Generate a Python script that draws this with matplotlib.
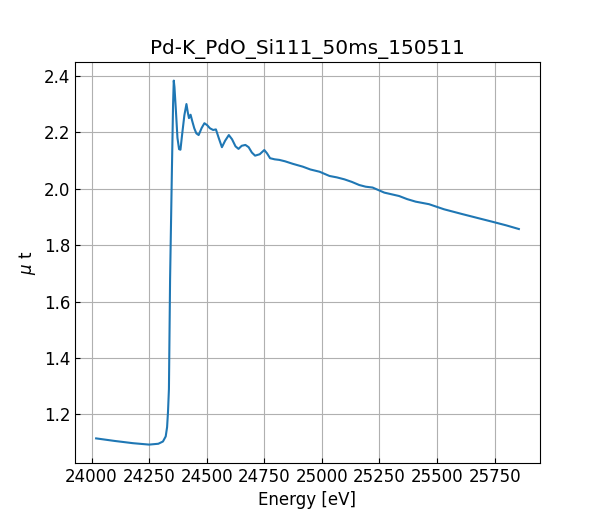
import matplotlib
matplotlib.use('Agg')
import matplotlib.pyplot as plt

plt.rcParams['font.size'] = 12

title = 'Pd-K_PdO_Si111_50ms_150511'

energy = [24020, 24100, 24180, 24250, 24290, 24310, 24322, 24328, 24332, 24336,
          24341, 24349, 24354, 24357, 24360, 24366, 24373, 24380, 24386, 24393,
          24403, 24412, 24418, 24423, 24430, 24437, 24446, 24455, 24465, 24478,
          24490, 24502, 24514, 24528, 24540, 24552, 24566, 24580, 24596, 24610,
          24625, 24638, 24652, 24668, 24682, 24696, 24710, 24730, 24750, 24762,
          24775, 24795, 24815, 24840, 24874, 24917, 24950, 24990, 25033, 25065,
          25098, 25130, 25162, 25190, 25220, 25271, 25335, 25370, 25407, 25465,
          25530, 25609, 25681, 25739, 25800, 25855]
mu_t = [1.115, 1.106, 1.098, 1.093, 1.096, 1.104, 1.122, 1.155, 1.210, 1.290,
        1.680, 2.070, 2.300, 2.383, 2.360, 2.280, 2.180, 2.140, 2.138, 2.190,
        2.260, 2.300, 2.270, 2.250, 2.262, 2.240, 2.214, 2.196, 2.190, 2.215,
        2.232, 2.225, 2.214, 2.208, 2.210, 2.180, 2.147, 2.170, 2.190, 2.175,
        2.150, 2.141, 2.152, 2.155, 2.147, 2.128, 2.117, 2.122, 2.137, 2.125,
        2.108, 2.104, 2.102, 2.097, 2.088, 2.078, 2.068, 2.060, 2.045, 2.040,
        2.033, 2.024, 2.013, 2.007, 2.004, 1.986, 1.974, 1.963, 1.954, 1.945,
        1.927, 1.910, 1.895, 1.883, 1.870, 1.857]

fig, ax = plt.subplots(figsize=(6, 5.2), dpi=100)
ax.plot(energy, mu_t)
ax.set_title(title)
ax.set_xlabel('Energy [eV]')
ax.set_ylabel(r'$\mu$ t')
ax.set_xticks([24000, 24250, 24500, 24750, 25000, 25250, 25500, 25750])
ax.tick_params(direction='in')
ax.grid(True)

fig.savefig('out.png')
